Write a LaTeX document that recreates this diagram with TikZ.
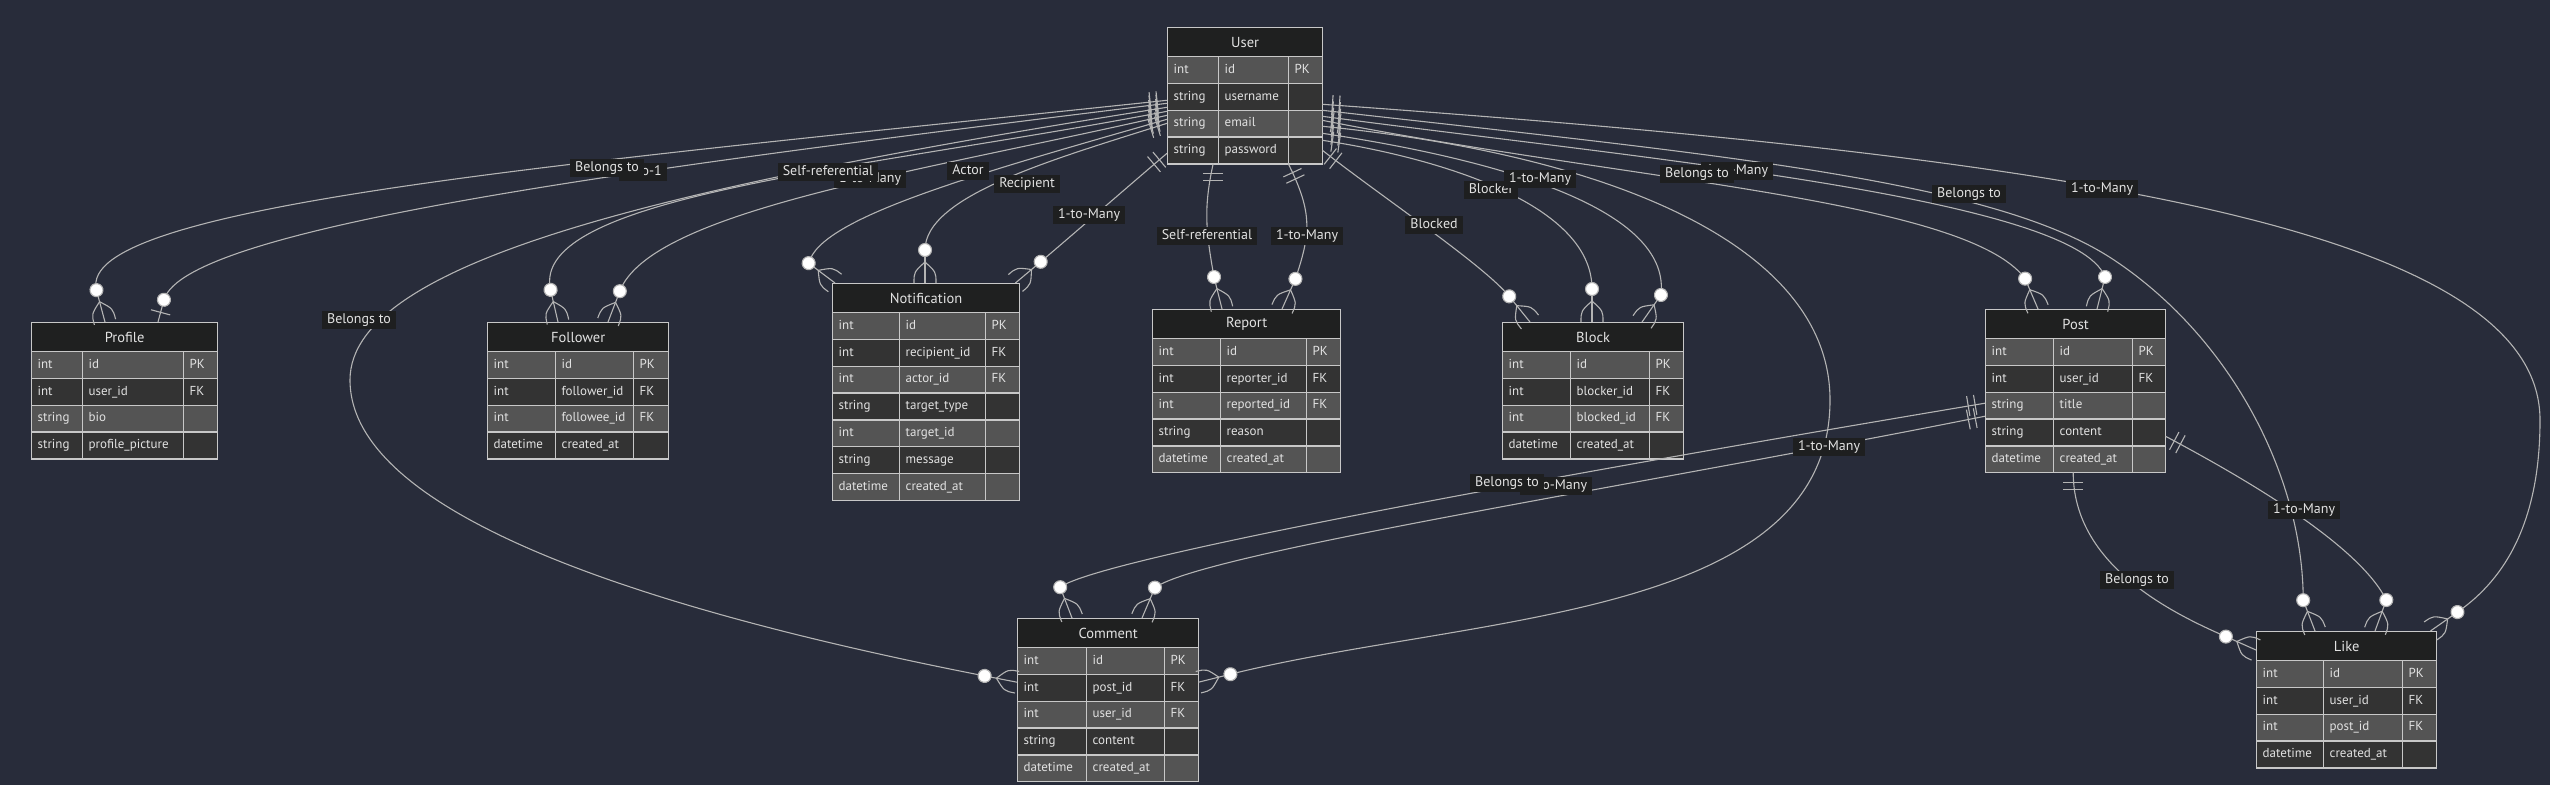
\documentclass[tikz,border=0pt]{standalone}
\usepackage{fontspec}
\setmainfont{PT Sans}
\usetikzlibrary{calc}

\definecolor{canvas}{HTML}{282C3A}
\definecolor{headfill}{HTML}{1F2020}
\definecolor{rowlight}{HTML}{545454}
\definecolor{rowdark}{HTML}{333333}
\definecolor{gridline}{HTML}{C8C8C8}
\definecolor{relcol}{HTML}{B4B4B4}
\definecolor{inktext}{HTML}{E2E2E2}
\definecolor{labelfill}{HTML}{1E1F20}

\tikzset{
  relline/.style={draw=relcol, line width=1.1pt},
  entbody/.style={anchor=north west, inner sep=0pt},
  enthead/.style={draw=gridline, line width=1.3pt, fill=headfill, anchor=north west, minimum height=29pt, inner sep=0pt, text=inktext, font=\fontsize{14.5}{16}\selectfont},
  cellbox/.style={draw=gridline, line width=1.3pt, anchor=north west, minimum height=26.8pt, inner xsep=6pt, inner ysep=0pt, text height=9.5pt, text depth=3pt, align=left, text=inktext, font=\fontsize{13}{15}\selectfont},
  relabel/.style={fill=labelfill, text=inktext, inner xsep=5pt, inner ysep=2.5pt, text height=10pt, text depth=3pt, font=\fontsize{14}{16}\selectfont},
  onlyone/.pic={\draw[relline] (-10,-10) -- (10,-10) (-10,-17) -- (10,-17);},
  zeroone/.pic={\draw[relline] (0,0) -- (0,-23) (-10,-10) -- (10,-10);
    \draw[relline, fill=white] (0,-23) circle (6.5);},
  zeromany/.pic={\draw[relline] (0,0) -- (0,-33);
    \draw[relline] (0,-21) .. controls (-11,-11) .. (-11,0);
    \draw[relline] (0,-21) .. controls (11,-11) .. (11,0);
    \draw[relline, fill=white] (0,-33) circle (6.5);}
}

% name, title, x, y, column widths, number of rows, rows
\newcommand{\entity}[9]{%
  \pgfmathsetmacro\entw{#5+#6+#7}%
  \pgfmathsetmacro\enth{29+#8*26.8}%
  \pgfmathsetmacro\wa{#5-12}\pgfmathsetmacro\wb{#6-12}\pgfmathsetmacro\wc{#7-12}%
  \pgfmathsetmacro\xb{#3+#5}\pgfmathsetmacro\xc{#3+#5+#6}%
  \node[entbody, minimum width=\entw pt, minimum height=\enth pt] (#1) at (#3,#4) {};
  \node[enthead, minimum width=\entw pt] (#1-head) at (#3,#4) {#2};
  \foreach \etype/\ename/\ekey [count=\ri] in {#9} {
    \pgfmathsetmacro\ry{#4+29+(\ri-1)*26.8}
    \ifodd\ri \def\rowfill{rowlight}\else \def\rowfill{rowdark}\fi
    \node[cellbox, fill=\rowfill, text width=\wa pt] (#1-\ri-t) at (#3,\ry) {\etype};
    \node[cellbox, fill=\rowfill, text width=\wb pt] (#1-\ri-n) at (\xb,\ry) {\ename};
    \node[cellbox, fill=\rowfill, text width=\wc pt] (#1-\ri-k) at (\xc,\ry) {\ekey};
  }
}

% start, start turn, first pull, dot, last pull, table point, end turn, end marker
\newcommand{\relate}[8]{%
  \draw[relline] (#1) .. controls +(#3) and +(#5) .. (#4);
  \pic[rotate=#2] at (#1) {onlyone};
  \pic[rotate=#7] at (#6) {#8};
}

\begin{document}
\begin{tikzpicture}[x=1pt, y=-1pt]
  \path[use as bounding box, fill=canvas] (0,0) rectangle (2550,785);

  \entity{User}{User}{1167}{27}{51}{70}{34}{4}{int/id/PK, string/username/, string/email/, string/password/}
  \entity{Profile}{Profile}{31}{322}{51}{101}{34}{4}{int/id/PK, int/user\_id/FK, string/bio/, string/profile\_picture/}
  \entity{Follower}{Follower}{487}{322}{68}{78}{35}{4}{int/id/PK, int/follower\_id/FK, int/followee\_id/FK, datetime/created\_at/}
  \entity{Notification}{Notification}{832}{283}{67}{86}{34}{7}{int/id/PK, int/recipient\_id/FK, int/actor\_id/FK, string/target\_type/, int/target\_id/, string/message/, datetime/created\_at/}
  \entity{Report}{Report}{1152}{309}{68}{86}{34}{5}{int/id/PK, int/reporter\_id/FK, int/reported\_id/FK, string/reason/, datetime/created\_at/}
  \entity{Block}{Block}{1502}{322}{68}{79}{34}{4}{int/id/PK, int/blocker\_id/FK, int/blocked\_id/FK, datetime/created\_at/}
  \entity{Post}{Post}{1985}{309}{68}{79}{33}{5}{int/id/PK, int/user\_id/FK, string/title/, string/content/, datetime/created\_at/}
  \entity{Comment}{Comment}{1017}{618}{69}{78}{34}{5}{int/id/PK, int/post\_id/FK, int/user\_id/FK, string/content/, datetime/created\_at/}
  \entity{Like}{Like}{2256}{631}{67}{79}{34}{4}{int/id/PK, int/user\_id/FK, int/post\_id/FK, datetime/created\_at/}

  % user, left side
  \relate{$(User.west)+(0,5)$}{96}{-597,63}{$(Profile.north west)+(65.5,-32)$}{-22,-85}{$(Profile.north west)+(74,0)$}{15}{zeromany}
  \relate{$(User.west)+(0,8)$}{97}{-496,61}{$(Profile.north west)+(133,-22)$}{20,-75}{$(Profile.north west)+(127,0)$}{-15}{zeroone}
  \relate{$(User.west)+(0,16)$}{101}{-295,57}{$(Follower.north west)+(63.6,-32.2)$}{-22,-95}{$(Follower.north west)+(71,0)$}{13}{zeromany}
  \relate{$(User.west)+(0,20)$}{103}{-244,56}{$(Follower.north west)+(132.8,-30.8)$}{31,-81}{$(Follower.north west)+(121,0)$}{-21}{zeromany}
  \relate{$(User.west)+(0,24)$}{106}{-192,55}{$(Notification.north west)+(-23,-20)$}{10,-45}{$(Notification.north west)+(3,0)$}{53}{zeromany}
  \relate{$(User.west)+(0,28)$}{107}{-110,35}{$(Notification.north west)+(93,-33)$}{0,-55}{$(Notification.north west)+(93,0)$}{0}{zeromany}
  \relate{$(User.west)+(0,58)$}{130}{-40,34}{$(Notification.north east)+(21.3,-21.2)$}{40,-34}{$(Notification.north east)+(-4,0)$}{-50}{zeromany}
  \draw[relline] ($(User.west)+(0,12)$) .. controls +(-494,78) and +(0,-120) .. (350,380) .. controls +(0,140) and +(-312,-61) .. ($(Comment.west)+(-32.4,-23.8)$);
  \pic[rotate=99] at ($(User.west)+(0,12)$) {onlyone};
  \pic[rotate=79] at ($(Comment.west)+(0,-17.5)$) {zeromany};

  % user, bottom
  \relate{$(User.south)+(-31.5,0)$}{180}{-10,45}{$(Report.north west)+(62,-32)$}{-8,-45}{$(Report.north west)+(70,0)$}{14}{zeromany}
  \relate{$(User.south)+(43.5,0)$}{205}{25,50}{$(Report.north west)+(143.4,-30.1)$}{15,-45}{$(Report.north west)+(130,0)$}{-24}{zeromany}

  % user, right side
  \relate{$(User.east)+(0,55)$}{232}{60,47}{$(Block.north west)+(7.2,-25.6)$}{-25,-31}{$(Block.north west)+(28,0)$}{39}{zeromany}
  \relate{$(User.east)+(0,45)$}{262}{100,15}{$(Block.north west)+(90,-33)$}{0,-90}{$(Block.north west)+(90,0)$}{0}{zeromany}
  \relate{$(User.east)+(0,38)$}{262}{200,30}{$(Block.north west)+(158.9,-27)$}{10,-80}{$(Block.north west)+(140,0)$}{-35}{zeromany}
  \relate{$(User.east)+(0,25)$}{259}{300,60}{$(Post.north west)+(40.1,-30.4)$}{-60,-80}{$(Post.north west)+(53,0)$}{23}{zeromany}
  \relate{$(User.east)+(0,21)$}{262}{300,40}{$(Post.north west)+(120,-32)$}{-30,-80}{$(Post.north west)+(112,0)$}{-14}{zeromany}
  \draw[relline] ($(User.east)+(0,31)$) .. controls +(300,30) and +(0,-150) .. (1830,400) .. controls +(0,220) and +(242,-60) .. ($(Comment.east)+(32,-25.5)$);
  \pic[rotate=264] at ($(User.east)+(0,31)$) {onlyone};
  \pic[rotate=-76] at ($(Comment.east)+(0,-17.5)$) {zeromany};
  \draw[relline] ($(User.east)+(0,15)$) .. controls +(400,45) and +(-120,-80) .. (2114,260) .. controls +(120,80) and +(0,-120) .. ($(Like.north west)+(47.2,-30.8)$);
  \pic[rotate=264] at ($(User.east)+(0,15)$) {onlyone};
  \pic[rotate=21] at ($(Like.north west)+(59,0)$) {zeromany};
  \draw[relline] ($(User.east)+(0,9)$) .. controls +(700,50) and +(0,-200) .. (2540,420) .. controls +(0,100) and +(49,-34) .. ($(Like.north east)+(21,-18.9)$);
  \pic[rotate=266] at ($(User.east)+(0,9)$) {onlyone};
  \pic[rotate=-55] at ($(Like.north east)+(-6,0)$) {zeromany};

  % post
  \relate{$(Post.west)+(0,12.5)$}{99.5}{-400,67}{$(Comment.north west)+(43.2,-30.8)$}{40,-30}{$(Comment.north west)+(55,0)$}{21}{zeromany}
  \relate{$(Post.west)+(0,25.5)$}{101}{-350,70}{$(Comment.north west)+(137.9,-30.4)$}{50,-35}{$(Comment.north west)+(125,0)$}{-23}{zeromany}
  \relate{$(Post.south)+(-2,0)$}{180}{0,90}{$(Like.north west)+(-30.1,5.6)$}{-60,-26}{$(Like.north west)+(0,19)$}{66}{zeromany}
  \relate{$(Post.east)+(0,45.5)$}{242}{100,53}{$(Like.north west)+(130.3,-31)$}{-25,-50}{$(Like.north west)+(119,0)$}{-20}{zeromany}

  \node[relabel] (lbProfB) at (643,172) {1-to-1};
  \node[relabel] (lbProfA) at (607,168) {Belongs to};
  \node[relabel] (lbFolB) at (870,179) {1-to-Many};
  \node[relabel] (lbFolA) at (828,172) {Self-referential};
  \node[relabel] (lbActor) at (968,171) {Actor};
  \node[relabel] (lbRecip) at (1027,184) {Recipient};
  \node[relabel] (lbNotif) at (1089,215) {1-to-Many};
  \node[relabel] (lbRepA) at (1207,236) {Self-referential};
  \node[relabel] (lbRepB) at (1307,236) {1-to-Many};
  \node[relabel] (lbBlocked) at (1434,225) {Blocked};
  \node[relabel] (lbBlocker) at (1491,190) {Blocker};
  \node[relabel] (lbBlock) at (1540,179) {1-to-Many};
  \node[relabel] (lbPostB) at (1737,171) {1-to-Many};
  \node[relabel] (lbPostA) at (1697,174) {Belongs to};
  \node[relabel] (lbLikeA) at (1969,194) {Belongs to};
  \node[relabel] (lbLikeC) at (2102,189) {1-to-Many};
  \node[relabel] (lbComL) at (359,320) {Belongs to};
  \node[relabel] (lbComR) at (1829,447) {1-to-Many};
  \node[relabel] (lbComB) at (1556,486) {1-to-Many};
  \node[relabel] (lbComA) at (1507,483) {Belongs to};
  \node[relabel] (lbLikeL) at (2137,580) {Belongs to};
  \node[relabel] (lbLikeB) at (2304,510) {1-to-Many};
\end{tikzpicture}
\end{document}
